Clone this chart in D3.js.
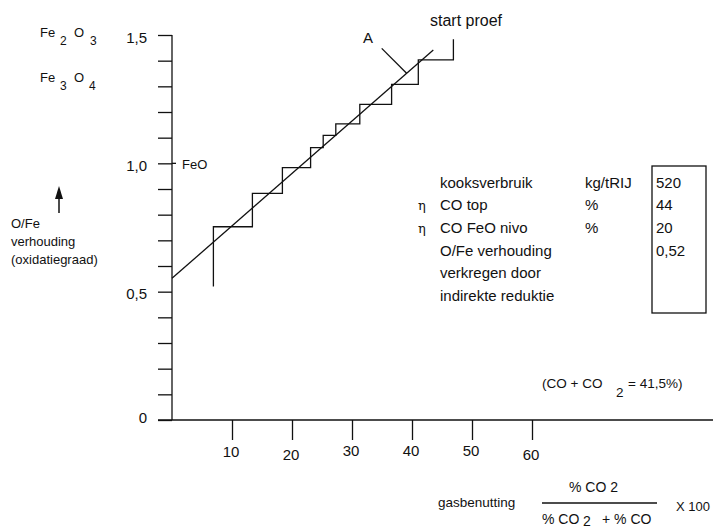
<!DOCTYPE html>
<html>
<head>
<meta charset="utf-8">
<script src="https://cdn.jsdelivr.net/npm/d3@7/dist/d3.min.js"></script>
<style>
  html, body { margin: 0; padding: 0; background: #fff; }
  svg { display: block; font-family: "Liberation Sans", Arial, Helvetica, sans-serif; }
  text { fill: #111; }
</style>
</head>
<body>
<svg id="chart" width="713" height="528"></svg>
<script>
// gas utilisation axis (%)
const xTickValues = [10, 20, 30, 40, 50, 60];
const xTickLabels = ["10", "20", "30", "40", "50", "60"];
// O/Fe axis
const yTickValues = [0, 0.1, 0.2, 0.3, 0.4, 0.5, 0.6, 0.7, 0.8, 0.9, 1.0, 1.1, 1.2, 1.3, 1.4, 1.5];
const yLabelValues = [0, 0.5, 1.0, 1.5];
const yLabelTexts = ["0", "0,5", "1,0", "1,5"];

// staircase construction: x of each rise and the O/Fe levels between them
const stepEdges = [6.9, 13.4, 18.4, 23.1, 25.2, 27.3, 31.3, 36.6, 41.05, 46.9];
const stepLevels = [0.52, 0.753, 0.883, 0.983, 1.061, 1.109, 1.154, 1.230, 1.308, 1.403, 1.483];

// operating line
const lineX = [0, 43.55];
const lineY = [0.552, 1.442];

// leader for label A
const leaderX = [34.95, 39.1];
const leaderY = [1.448, 1.351];

// data table
const rowEta = [false, true, true, false, false, false];
const rowLabels = ["kooksverbruik", "CO top", "CO FeO nivo", "O/Fe verhouding", "verkregen door", "indirekte reduktie"];
const rowUnits = ["kg/tRIJ", "%", "%", "", "", ""];
const rowValues = ["520", "44", "20", "0,52", "", ""];

const svg = d3.select("#chart");
const x = d3.scaleLinear().domain([0, 60]).range([172, 532]);
const y = d3.scaleLinear().domain([0, 1.5]).range([420, 35]);
const sw = 1.3;

// y axis with ticks pointing left
const yAxis = svg.append("g").attr("transform", `translate(${x(0)},0)`)
  .call(d3.axisLeft(y).tickValues(yTickValues).tickSize(14).tickFormat("").tickSizeOuter(0));
yAxis.select(".domain").remove();
yAxis.selectAll("line").attr("stroke", "#111").attr("stroke-width", sw);
svg.append("line").attr("x1", x(0)).attr("x2", x(0)).attr("y1", y(1.5)).attr("y2", y(0))
  .attr("stroke", "#111").attr("stroke-width", sw);
// small right extension at FeO level
svg.append("line").attr("x1", x(0)).attr("x2", x(0) + 4).attr("y1", y(1.0)).attr("y2", y(1.0))
  .attr("stroke", "#111").attr("stroke-width", sw);

svg.append("g").selectAll("text").data(yLabelValues).join("text")
  .attr("x", 147).attr("y", d => y(d) + (d === 0 ? -3 : 2))
  .attr("text-anchor", "end").attr("dominant-baseline", "central")
  .attr("font-size", 15)
  .text((d, i) => yLabelTexts[i]);

// x axis line and ticks pointing down
svg.append("line").attr("x1", 158).attr("x2", 713).attr("y1", y(0)).attr("y2", y(0))
  .attr("stroke", "#111").attr("stroke-width", sw);
const xAxis = svg.append("g").attr("transform", `translate(0,${y(0)})`)
  .call(d3.axisBottom(x).tickValues(xTickValues).tickSize(20).tickFormat("").tickSizeOuter(0));
xAxis.select(".domain").remove();
xAxis.selectAll("line").attr("stroke", "#111").attr("stroke-width", sw);
const xLabelDy = [0, 3, -1, -1, -1, 3];
svg.append("g").selectAll("text").data(xTickValues).join("text")
  .attr("x", d => x(d) - 1).attr("y", (d, i) => 451 + xLabelDy[i])
  .attr("text-anchor", "middle").attr("dominant-baseline", "central")
  .attr("font-size", 15)
  .text((d, i) => xTickLabels[i]);

// staircase
const stepPts = [];
stepEdges.forEach((e, i) => {
  stepPts.push([e, stepLevels[i]]);
  stepPts.push([e, stepLevels[i + 1]]);
});
const line = d3.line().x(d => x(d[0])).y(d => y(d[1]));
svg.append("path").attr("d", line(stepPts))
  .attr("fill", "none").attr("stroke", "#111").attr("stroke-width", sw);

// operating line
svg.append("path").attr("d", line(lineX.map((v, i) => [v, lineY[i]])))
  .attr("fill", "none").attr("stroke", "#111").attr("stroke-width", sw);

// leader A
svg.append("path").attr("d", line(leaderX.map((v, i) => [v, leaderY[i]])))
  .attr("fill", "none").attr("stroke", "#111").attr("stroke-width", sw);
svg.append("text").attr("x", 368).attr("y", 37).attr("text-anchor", "middle")
  .attr("dominant-baseline", "central").attr("font-size", 15).text("A");
svg.append("text").attr("x", 430).attr("y", 20)
  .attr("dominant-baseline", "central").attr("font-size", 16).text("start proef");

// oxide labels
function oxide(xs, yb, parts) {
  const t = svg.append("text").attr("y", yb);
  parts.forEach((p, i) => {
    t.append("tspan").attr("x", xs[i]).attr("y", yb + (p.sub ? 8 : 0))
      .attr("font-size", p.sub ? 12 : 13).text(p.t);
  });
}
oxide([40, 60, 74, 90], 37, [{t: "Fe"}, {t: "2", sub: true}, {t: "O"}, {t: "3", sub: true}]);
oxide([40, 60, 74, 89], 82, [{t: "Fe"}, {t: "3", sub: true}, {t: "O"}, {t: "4", sub: true}]);

svg.append("text").attr("x", 182).attr("y", 164).attr("dominant-baseline", "central")
  .attr("font-size", 13).text("FeO");

// arrow and axis title
svg.append("line").attr("x1", 59).attr("x2", 59).attr("y1", 213).attr("y2", 196)
  .attr("stroke", "#111").attr("stroke-width", 1.5);
svg.append("path").attr("d", "M59,186 L55,199 L63,199 Z").attr("fill", "#111");
["O/Fe", "verhouding", "(oxidatiegraad)"].forEach((s, i) => {
  svg.append("text").attr("x", 11).attr("y", 228 + i * 18).attr("font-size", 13).text(s);
});

// table
const rowY = i => 182 + i * 22.7;
const tbl = svg.append("g").attr("font-size", 15);
rowLabels.forEach((s, i) => {
  tbl.append("text").attr("x", 440).attr("y", rowY(i)).attr("dominant-baseline", "central").text(s);
  if (rowEta[i]) tbl.append("text").attr("x", 418).attr("y", rowY(i) + 1).attr("dominant-baseline", "central")
    .attr("font-family", "DejaVu Serif, serif").attr("font-size", 13).text("η");
  if (rowUnits[i]) tbl.append("text").attr("x", 585).attr("y", rowY(i)).attr("dominant-baseline", "central").text(rowUnits[i]);
  if (rowValues[i]) tbl.append("text").attr("x", 656).attr("y", rowY(i)).attr("dominant-baseline", "central").text(rowValues[i]);
});
svg.append("rect").attr("x", 652).attr("y", 166).attr("width", 54).attr("height", 147)
  .attr("fill", "none").attr("stroke", "#111").attr("stroke-width", sw);

// CO + CO2 note
const note = svg.append("g").attr("font-size", 13.5);
note.append("text").attr("x", 542).attr("y", 383).attr("dominant-baseline", "central").text("(CO + CO");
note.append("text").attr("x", 616).attr("y", 392).attr("dominant-baseline", "central").text("2");
note.append("text").attr("x", 628).attr("y", 383).attr("dominant-baseline", "central").text("= 41,5%)");

// gas utilisation formula
const f = svg.append("g").attr("font-size", 14);
f.append("text").attr("x", 438).attr("y", 502).attr("dominant-baseline", "central").attr("font-size", 13.5).text("gasbenutting");
f.append("text").attr("x", 569).attr("y", 487).attr("dominant-baseline", "central").text("% CO 2");
f.append("line").attr("x1", 542).attr("x2", 657).attr("y1", 503).attr("y2", 503).attr("stroke", "#111").attr("stroke-width", sw);
f.append("text").attr("x", 542).attr("y", 519).attr("dominant-baseline", "central").text("% CO");
f.append("text").attr("x", 583).attr("y", 521).attr("dominant-baseline", "central").text("2");
f.append("text").attr("x", 602).attr("y", 519).attr("dominant-baseline", "central").text("+ % CO");
f.append("text").attr("x", 676).attr("y", 506).attr("dominant-baseline", "central").attr("font-size", 13).text("X 100");
</script>
</body>
</html>
